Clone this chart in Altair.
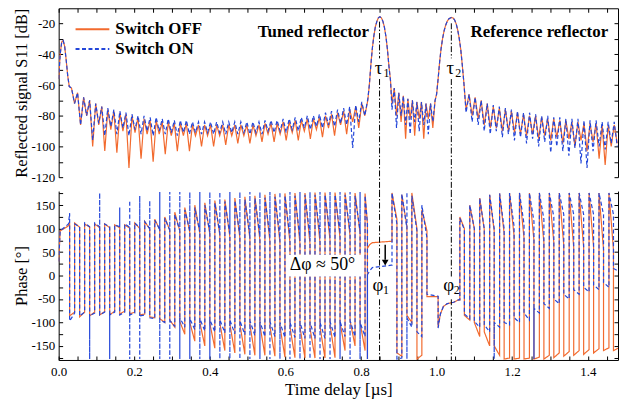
import altair as alt
import pandas as pd

ORANGE = "#F26A2E"
BLUE = "#2346D9"
FONT = "Liberation Serif"
W, H = 563, 170

series_names = ["Switch OFF", "Switch ON"]

# ---------------- Reflected signal S11 [dB] (top panel) ----------------
s11_t_start = [0.000, 0.004, 0.008, 0.012, 0.016, 0.020, 0.024, 0.028]
s11_start = [-56, -40, -32, -31, -35, -44, -54, -61]

s11_t_ripple1 = [
    0.034, 0.042, 0.050, 0.058, 0.066, 0.074, 0.082, 0.090, 0.098, 0.106,
    0.114, 0.122, 0.130, 0.138, 0.146, 0.154, 0.162, 0.170, 0.178, 0.186,
    0.194, 0.202, 0.210, 0.218, 0.226, 0.234, 0.242, 0.250, 0.258, 0.266,
    0.274, 0.282, 0.290, 0.298, 0.306, 0.314, 0.322, 0.330, 0.338, 0.346,
    0.354, 0.362, 0.370, 0.378, 0.386, 0.394, 0.402, 0.410, 0.418, 0.426,
    0.434, 0.442, 0.450, 0.458, 0.466, 0.474, 0.482, 0.490, 0.498, 0.506,
    0.514, 0.522, 0.530, 0.538, 0.546, 0.554, 0.562, 0.570, 0.578, 0.586,
    0.594, 0.602, 0.610, 0.618, 0.626, 0.634, 0.642, 0.650, 0.658, 0.666,
    0.674, 0.682, 0.690, 0.698, 0.706, 0.714, 0.722, 0.730, 0.738, 0.746,
    0.754, 0.762, 0.770, 0.778, 0.786, 0.794, 0.802, 0.810, 0.818]
s11_off_peaks1 = [-62, -65, -68, -70, -72, -74, -76, -77, -78, -79, -80, -81, -82, -83, -83, -84, -84,
                  -85, -85, -85, -86, -86, -86, -86, -86, -86, -86, -86, -86, -86, -86, -86, -85, -85,
                  -85, -84, -84, -83, -83, -82, -82, -81, -80, -79, -78, -77, -76, -74, -72, -70]
s11_off_dips1 = [-72, -86, -80, -100, -86, -103, -89, -104, -90, -114, -91, -108, -92, -110, -92, -105,
                 -93, -103, -93, -103, -93, -100, -93, -100, -93, -99, -93, -98, -93, -98, -93, -97, -92,
                 -97, -92, -96, -91, -96, -90, -95, -89, -94, -88, -93, -86, -92, -84, -88, -80]
s11_on_peaks1 = [-62, -65, -68, -70, -72, -74, -75, -76, -77, -78, -79, -80, -80, -81, -81, -82, -82,
                 -83, -83, -83, -84, -84, -84, -84, -84, -84, -84, -84, -84, -84, -84, -84, -83, -83,
                 -83, -82, -82, -81, -81, -80, -80, -79, -78, -77, -76, -75, -74, -73, -71, -69]
s11_on_dips1 = [-72, -86, -80, -96, -85, -93, -87, -92, -88, -93, -89, -92, -90, -93, -90, -92, -91,
                -93, -91, -92, -91, -92, -91, -92, -91, -92, -91, -92, -91, -92, -91, -92, -90, -91,
                -90, -91, -89, -90, -88, -89, -87, -88, -86, -87, -85, -86, -101, -84, -80]

s11_t_tau1 = [0.822, 0.826, 0.830, 0.834, 0.838, 0.842, 0.846, 0.850, 0.854, 0.858, 0.862, 0.866,
              0.870, 0.874, 0.878]
s11_tau1 = [-60, -47, -36, -28, -22, -18.5, -16.2, -15.5, -16.3, -18.5, -22.5, -28.5, -37, -48, -57]

s11_t_mid = [0.882, 0.888, 0.894, 0.900, 0.906, 0.912, 0.918, 0.924, 0.930, 0.936, 0.942, 0.948,
             0.954, 0.960, 0.966, 0.972, 0.978, 0.984, 0.990, 0.996]
s11_off_mid = [-72, -62, -80, -65, -84, -67, -95, -69, -82, -70, -93, -71, -82, -71, -95, -72, -82, -72, -88, -70]
s11_on_mid = [-76, -62, -88, -65, -80, -67, -86, -69, -92, -70, -84, -71, -90, -71, -86, -72, -92, -72, -84, -70]

s11_t_tau2 = [1.000, 1.004, 1.008, 1.012, 1.016, 1.020, 1.024, 1.028, 1.032, 1.036, 1.040, 1.044,
              1.048, 1.052, 1.056, 1.060, 1.064, 1.068, 1.072]
s11_tau2 = [-66, -56, -45, -36, -29.5, -24.5, -21, -18.5, -17, -16.3, -16, -16.4, -17.8, -20.3,
            -24.3, -29.8, -37, -47, -58]

s11_t_tail = [
    1.078, 1.086, 1.094, 1.102, 1.110, 1.118, 1.126, 1.134, 1.142, 1.150,
    1.158, 1.166, 1.174, 1.182, 1.190, 1.198, 1.206, 1.214, 1.222, 1.230,
    1.238, 1.246, 1.254, 1.262, 1.270, 1.278, 1.286, 1.294, 1.302, 1.310,
    1.318, 1.326, 1.334, 1.342, 1.350, 1.358, 1.366, 1.374, 1.382, 1.390,
    1.398, 1.406, 1.414, 1.422, 1.430, 1.438, 1.446, 1.454, 1.462, 1.470,
    1.478]
s11_off_tail = [-76, -66, -80, -68, -82, -70, -86, -72, -88, -74, -88, -75, -90, -76, -90, -77, -91,
                -78, -92, -79, -93, -80, -92, -80, -95, -81, -93, -82, -96, -82, -94, -83, -98, -83,
                -95, -84, -100, -84, -96, -85, -103, -85, -97, -85, -108, -86, -112, -86, -100, -86, -98]
s11_on_tail = [-78, -66, -84, -68, -86, -70, -90, -72, -92, -73, -90, -74, -94, -75, -92, -76, -96,
               -77, -94, -78, -98, -78, -95, -79, -100, -80, -97, -80, -104, -81, -100, -81, -103, -82,
               -106, -82, -101, -82, -111, -83, -114, -83, -103, -83, -100, -84, -102, -84, -98, -84, -100]

# ---------------- Phase [deg] (bottom panel) ----------------
# values listed at one time are drawn in sequence (vertical jumps / wraps)
ph_t = [
    0.000, 0.004, 0.026,
    0.0290, 0.0422, 0.0555, 0.0687, 0.0820, 0.0952, 0.1085, 0.1217, 0.1350, 0.1482,
    0.1615, 0.1747, 0.1880, 0.2012, 0.2145, 0.2277, 0.2410, 0.2542, 0.2675, 0.2807,
    0.2940, 0.3072, 0.3205, 0.3337, 0.3470, 0.3602, 0.3735, 0.3867, 0.4000, 0.4132,
    0.4265, 0.4397, 0.4530, 0.4662, 0.4795, 0.4927, 0.5060, 0.5192, 0.5325, 0.5457,
    0.5590, 0.5722, 0.5855, 0.5987, 0.6120, 0.6252, 0.6385, 0.6517, 0.6650, 0.6782,
    0.6915, 0.7047, 0.7180, 0.7312, 0.7445, 0.7577, 0.7710, 0.7842, 0.7975, 0.8107,
    0.8170, 0.8230, 0.8300, 0.8800,
    0.8820, 0.8950, 0.9080, 0.9215, 0.9345, 0.9480, 0.9610, 0.9745,
    1.0040, 1.0100, 1.0180, 1.0280, 1.0450, 1.0580,
    1.0615, 1.0735, 1.0878, 1.0998, 1.1141, 1.1261, 1.1404, 1.1524, 1.1667, 1.1787,
    1.1930, 1.2050, 1.2193, 1.2313, 1.2456, 1.2576, 1.2719, 1.2839, 1.2982, 1.3102,
    1.3245, 1.3365, 1.3508, 1.3628, 1.3771, 1.3891, 1.4034, 1.4154, 1.4297, 1.4417,
    1.4560, 1.4680, 1.4800]
ph_off = [
    [30], [95], [106],
    [112, -86], [-78, 112], [103, -88], [-78, 110], [103, -86], [-78, 110], [102, -84], [-77, 110], [102, -84], [-76, 108],
    [102, -82], [-76, 108], [101, -82], [-78, 112], [100, -84], [-82, 115], [99, -88], [-90, 120], [98, -92], [-100, 125],
    [96, -95], [-110, 135], [95, -98], [-125, 145], [92, -100], [-140, 150], [90, -100], [-150, 155], [88, -102], [-155, 160],
    [85, -102], [-160, 162], [82, -104], [-165, 165], [80, -104], [-168, 168], [78, -105], [-170, 170], [75, -106], [-170, 172],
    [72, -108], [-172, 174], [70, -108], [-174, 175], [70, -110], [-175, 176], [68, -110], [-176, 176], [68, -112], [-176, 177],
    [70, -110], [-176, 177], [75, -105], [-175, 177], [80, -100], [-160, 177], [85, -96], [-150, 176], [90, -100], [-160, 175],
    [110, -178, 58], [66], [70], [73],
    [73, 176], [120, -165], [-172, 172], [105, -85], [-100, 176], [100, -178], [-170, 140], [95, -45],
    [-45, -110], [-82], [-66], [-60], [-57], [-52],
    [-52, 125], [100, -85], [-95, 150], [100, -100], [-130, 165], [98, -120], [-150, 172], [95, -150], [-170, 175], [90, -178],
    [-176, 176], [85, -178], [-176, 176], [80, -178], [-176, 176], [75, -178], [-174, 176], [70, -178], [-170, 176], [70, -175],
    [-165, 176], [65, -172], [-162, 176], [60, -170], [-160, 176], [60, -168], [-158, 176], [60, -165], [-156, 176], [55, -160],
    [-154, 176], [55, -160], [-155]]
ph_on = [
    [30], [95], [110],
    [133, -97], [-80, 110], [104, -86], [-78, 112], [104, -178, -86], [-80, 112], [104, 176, -84], [-78, 110], [104, -178, -84], [-78, 108],
    [104, 145, -84], [-78, 110], [103, 160, -178, -84], [-80, 112], [102, 170, -178, -86], [-84, 115], [100, 160, -90], [-92, 118], [98, 178, -178, -94], [-100, 122],
    [97, 178, -178, -96], [-108, 130], [96, 178, -178, -90], [-110, 140], [95, 178, -178, -92], [-115, 145], [93, 178, -178, -92], [-118, 150], [92, 178, -178, -94], [-120, 155],
    [90, 178, -178, -94], [-122, 158], [88, 178, -178, -95], [-124, 160], [86, 178, -178, -96], [-126, 162], [85, 178, -178, -96], [-128, 165], [84, 178, -178, -98], [-130, 166],
    [82, 178, -178, -98], [-130, 168], [80, 178, -178, -100], [-132, 170], [80, 178, -178, -100], [-132, 170], [80, 178, -178, -100], [-134, 172], [82, 178, -178, -100], [-134, 172],
    [85, 178, -178, -100], [-134, 172], [88, 178, -178, -98], [-132, 172], [90, 178, -178, -98], [-130, 172], [92, 178, -178, -96], [-130, 170], [95, 178, -178, -100], [-130, 170],
    [110, -178, 2], [10], [17], [22],
    [22, 176], [110, -178], [-176, 174], [100, 178, -178, -90], [-110, 170], [95, -120], [-130, 150], [80, -40],
    [-44, -112], [-82], [-66], [-60], [-57], [-52],
    [-52, 122], [98, -82], [-92, 150], [100, -98], [-110, 165], [100, -105], [-120, 172], [100, -178, -100], [-110, 175], [100, -100],
    [-105, 176], [105, -90], [-100, 176], [110, -80], [-95, 176], [115, -178, -70], [-80, 176], [120, -60], [-70, 176], [125, -50],
    [-60, 176], [130, -40], [-50, 176], [130, -30], [-40, 176], [130, -25], [-35, 176], [130, -20], [-30, 176], [130, -15],
    [-25, 176], [130, 15], [10]]

# ---------------- annotations ----------------
tau_t = [0.849, 1.039]
tau_subs = ["1", "2"]
tau_line_top_db = [-18.7, -19.8]
tau_gap_db = [-42.6, -56.1]
tau_line_end_db = -129
tau_label_db = -52.9
phi_label_t = [0.845, 1.032]
phi_label_deg = -34
phi_gap_deg = [-2.1, -50.7]
ref_labels = ["Tuned reflector", "Reference reflector"]
ref_label_t = [0.674, 1.272]
ref_label_db = -29.0
dphi_text = "Δφ ≈ 50°"
dphi_box_t = [0.604, 0.801]
dphi_box_deg = [-2.1, 44.4]
dphi_text_pos = [0.698, 11.2]
arrow_t = 0.864
arrow_deg = [65.5, 33.8, 27.5]

x_ticks = [0.0, 0.05, 0.1, 0.15, 0.2, 0.25, 0.3, 0.35, 0.4, 0.45, 0.5, 0.55, 0.6, 0.65, 0.7, 0.75,
           0.8, 0.85, 0.9, 0.95, 1.0, 1.05, 1.1, 1.15, 1.2, 1.25, 1.3, 1.35, 1.4, 1.45]
y_top_ticks = [-120, -110, -100, -90, -80, -70, -60, -50, -40, -30, -20]
y_bot_ticks = [-175, -150, -125, -100, -75, -50, -25, 0, 25, 50, 75, 100, 125, 150, 175]


# ---------------- tables ----------------
def interleave(peaks, dips):
    out = []
    for i, p in enumerate(peaks):
        out.append(p)
        if i < len(dips):
            out.append(dips[i])
    return out


s11_t = s11_t_start + s11_t_ripple1 + s11_t_tau1 + s11_t_mid + s11_t_tau2 + s11_t_tail
s11_off = s11_start + interleave(s11_off_peaks1, s11_off_dips1) + s11_tau1 + s11_off_mid + s11_tau2 + s11_off_tail
s11_on = s11_start + interleave(s11_on_peaks1, s11_on_dips1) + s11_tau1 + s11_on_mid + s11_tau2 + s11_on_tail
assert len(s11_t) == len(s11_off) == len(s11_on)
assert len(ph_t) == len(ph_off) == len(ph_on)

rows = []
for name, vals in zip(series_names, [s11_off, s11_on]):
    for i, (t, v) in enumerate(zip(s11_t, vals)):
        rows.append({"t": t, "v": v, "s": name, "o": i})
s11_df = pd.DataFrame(rows)

rows = []
for name, vals in zip(series_names, [ph_off, ph_on]):
    o = 0
    for t, vs in zip(ph_t, vals):
        for v in vs:
            rows.append({"t": t, "v": v, "s": name, "o": o})
            o += 1
ph_df = pd.DataFrame(rows)

# ---------------- scales / axes ----------------
xs = alt.Scale(domain=[0, 1.48], nice=False, zero=False)
ys_top = alt.Scale(domain=[-120, -10], nice=False, zero=False)
ys_bot = alt.Scale(domain=[-180, 180], nice=False, zero=False)
cs = alt.Scale(domain=series_names, range=[ORANGE, BLUE])
ds = alt.Scale(domain=series_names, range=[[1, 0], [4, 2.5]])


def left_axis(title, ticks, step):
    return alt.Axis(orient="left", title=title, values=ticks, grid=False,
                    labelExpr=f"datum.value % {step} === 0 ? '' + datum.value : ''",
                    ticks=False, domain=True, labelPadding=4, titlePadding=2, titleFontSize=16.5)


def tick_axis(orient, offset, ticks):
    return alt.Axis(orient=orient, offset=offset, values=ticks, labels=False, domain=False,
                    ticks=True, tickSize=4, title=None, grid=False)


def plain_axis(orient):
    return alt.Axis(orient=orient, labels=False, ticks=False, domain=True, title=None, grid=False)


def lines(df, yscale, yaxis, xaxis):
    return alt.Chart(df).mark_line(strokeWidth=1.2, clip=True).encode(
        x=alt.X("t:Q", scale=xs, axis=xaxis),
        y=alt.Y("v:Q", scale=yscale, axis=yaxis),
        color=alt.Color("s:N", scale=cs, legend=None),
        strokeDash=alt.StrokeDash("s:N", scale=ds, legend=None),
        order=alt.Order("o:Q"),
    )


def frame(yscale, ymid, xaxis, yaxis):
    enc = {"y": alt.Y("v:Q", scale=yscale, axis=yaxis)}
    enc["x"] = alt.X("t:Q", scale=xs, axis=xaxis)
    return alt.Chart(pd.DataFrame({"t": [0.7], "v": [ymid]})).mark_point(opacity=0).encode(**enc)


DASHDOT = [6, 2, 1.5, 2]

# ---------------- top panel ----------------
top_rules_df = pd.DataFrame({
    "t": tau_t + tau_t,
    "y1": tau_line_top_db + [tau_gap_db[1]] * 2,
    "y2": [tau_gap_db[0]] * 2 + [tau_line_end_db] * 2,
})
top_rules = alt.Chart(top_rules_df).mark_rule(color="black", strokeWidth=1, strokeDash=DASHDOT).encode(
    x=alt.X("t:Q", scale=xs, axis=None), y=alt.Y("y1:Q", scale=ys_top, axis=None), y2="y2:Q")

tau_df = pd.DataFrame({"t": tau_t, "v": [tau_label_db] * 2, "sym": ["τ", "τ"], "sub": tau_subs})
tau_sym = alt.Chart(tau_df).mark_text(font=FONT, fontSize=19, baseline="alphabetic", align="center", dx=-1,
                                      color="black").encode(
    x=alt.X("t:Q", scale=xs, axis=None), y=alt.Y("v:Q", scale=ys_top, axis=None), text="sym:N")
tau_sub = alt.Chart(tau_df).mark_text(font=FONT, fontSize=12, baseline="alphabetic", align="left", dx=4, dy=3,
                                      color="black").encode(
    x=alt.X("t:Q", scale=xs, axis=None), y=alt.Y("v:Q", scale=ys_top, axis=None), text="sub:N")

ref_df = pd.DataFrame({"t": ref_label_t, "v": [ref_label_db] * 2, "label": ref_labels})
ref_text = alt.Chart(ref_df).mark_text(font=FONT, fontSize=17, fontWeight="bold", baseline="alphabetic",
                                       align="center", color="black").encode(
    x=alt.X("t:Q", scale=xs, axis=None), y=alt.Y("v:Q", scale=ys_top, axis=None), text="label:N")

legend_layers = []
for i, (name, col, dash) in enumerate(zip(series_names, [ORANGE, BLUE], [[1, 0], [4, 2.5]])):
    ly = 21 + 20 * i
    ldf = pd.DataFrame({"label": [name]})
    legend_layers.append(alt.Chart(ldf).mark_rule(color=col, strokeWidth=2, strokeDash=dash).encode(
        x=alt.value(17), x2=alt.value(51), y=alt.value(ly)))
    legend_layers.append(alt.Chart(ldf).mark_text(align="left", baseline="middle", font=FONT, fontSize=17,
                                                  fontWeight="bold", color="black").encode(
        x=alt.value(57), y=alt.value(ly), text="label:N"))

top = alt.layer(
    lines(s11_df, ys_top, left_axis("Reflected signal S11 [dB]", y_top_ticks, 20), None),
    frame(ys_top, -60, plain_axis("top"), plain_axis("right")),
    frame(ys_top, -60, tick_axis("bottom", -H, x_ticks), tick_axis("right", -W, y_top_ticks)),
    frame(ys_top, -60, None, tick_axis("left", -W, y_top_ticks)),
    top_rules, tau_sym, tau_sub, ref_text, *legend_layers,
).resolve_axis(x="independent", y="independent").properties(width=W, height=H)

# ---------------- bottom panel ----------------
bot_rules_df = pd.DataFrame({
    "t": tau_t + tau_t,
    "y1": [180, 180] + [phi_gap_deg[1]] * 2,
    "y2": [phi_gap_deg[0]] * 2 + [-180, -180],
})
bot_rules = alt.Chart(bot_rules_df).mark_rule(color="black", strokeWidth=1, strokeDash=DASHDOT).encode(
    x=alt.X("t:Q", scale=xs, axis=None), y=alt.Y("y1:Q", scale=ys_bot, axis=None), y2="y2:Q")

box_df = pd.DataFrame({"t1": [dphi_box_t[0]], "t2": [dphi_box_t[1]], "v1": [dphi_box_deg[0]], "v2": [dphi_box_deg[1]]})
box = alt.Chart(box_df).mark_rect(color="white").encode(
    x=alt.X("t1:Q", scale=xs, axis=None), x2="t2:Q", y=alt.Y("v1:Q", scale=ys_bot, axis=None), y2="v2:Q")
dphi_df = pd.DataFrame({"t": [dphi_text_pos[0]], "v": [dphi_text_pos[1]], "label": [dphi_text]})
dphi = alt.Chart(dphi_df).mark_text(font=FONT, fontSize=18, baseline="alphabetic", align="center",
                                    color="black").encode(
    x=alt.X("t:Q", scale=xs, axis=None), y=alt.Y("v:Q", scale=ys_bot, axis=None), text="label:N")

arrow_df = pd.DataFrame({"t": [arrow_t], "v1": [arrow_deg[0]], "v2": [arrow_deg[1]], "head": [arrow_deg[2]]})
arrow_shaft = alt.Chart(arrow_df).mark_rule(color="black", strokeWidth=1.5).encode(
    x=alt.X("t:Q", scale=xs, axis=None), y=alt.Y("v1:Q", scale=ys_bot, axis=None), y2="v2:Q")
arrow_head = alt.Chart(arrow_df).mark_point(shape="triangle-down", filled=True, color="black", size=45,
                                            opacity=1).encode(
    x=alt.X("t:Q", scale=xs, axis=None), y=alt.Y("head:Q", scale=ys_bot, axis=None))

phi_df = pd.DataFrame({"t": phi_label_t, "v": [phi_label_deg] * 2, "sym": ["φ", "φ"], "sub": tau_subs})
phi_sym = alt.Chart(phi_df).mark_text(font=FONT, fontSize=19, baseline="alphabetic", align="center",
                                      color="black").encode(
    x=alt.X("t:Q", scale=xs, axis=None), y=alt.Y("v:Q", scale=ys_bot, axis=None), text="sym:N")
phi_sub = alt.Chart(phi_df).mark_text(font=FONT, fontSize=12, baseline="alphabetic", align="left", dx=5, dy=3,
                                      color="black").encode(
    x=alt.X("t:Q", scale=xs, axis=None), y=alt.Y("v:Q", scale=ys_bot, axis=None), text="sub:N")

x_bottom_axis = alt.Axis(orient="bottom", title="Time delay [µs]", values=x_ticks, grid=False, ticks=False,
                         domain=True, labelPadding=6, titlePadding=3, labelFlush=False, labelOverlap=False,
                         labelExpr="abs(datum.value * 5 - round(datum.value * 5)) < 0.001 ? format(datum.value, '.1f') : ''")

bottom = alt.layer(
    lines(ph_df, ys_bot, left_axis("Phase [°]", y_bot_ticks, 50), x_bottom_axis),
    frame(ys_bot, 0, tick_axis("top", -H, x_ticks), plain_axis("right")),
    frame(ys_bot, 0, None, tick_axis("right", -W, y_bot_ticks)),
    frame(ys_bot, 0, None, tick_axis("left", -W, y_bot_ticks)),
    bot_rules, box, dphi, arrow_shaft, arrow_head, phi_sym, phi_sub,
).resolve_axis(x="independent", y="independent").properties(width=W, height=H)

chart = alt.vconcat(top, bottom, spacing=14, bounds="flush").properties(
    padding={"left": 5, "top": -2, "right": 0, "bottom": 0}
).configure_view(stroke=None).configure_axis(
    labelFont=FONT, titleFont=FONT, labelFontSize=13, titleFontSize=17, titleFontWeight="normal",
    labelColor="black", titleColor="black", domainColor="black", tickColor="black",
    domainWidth=1, tickWidth=1,
)

chart.save("out.html", embed_options={"renderer": "svg", "actions": False})
